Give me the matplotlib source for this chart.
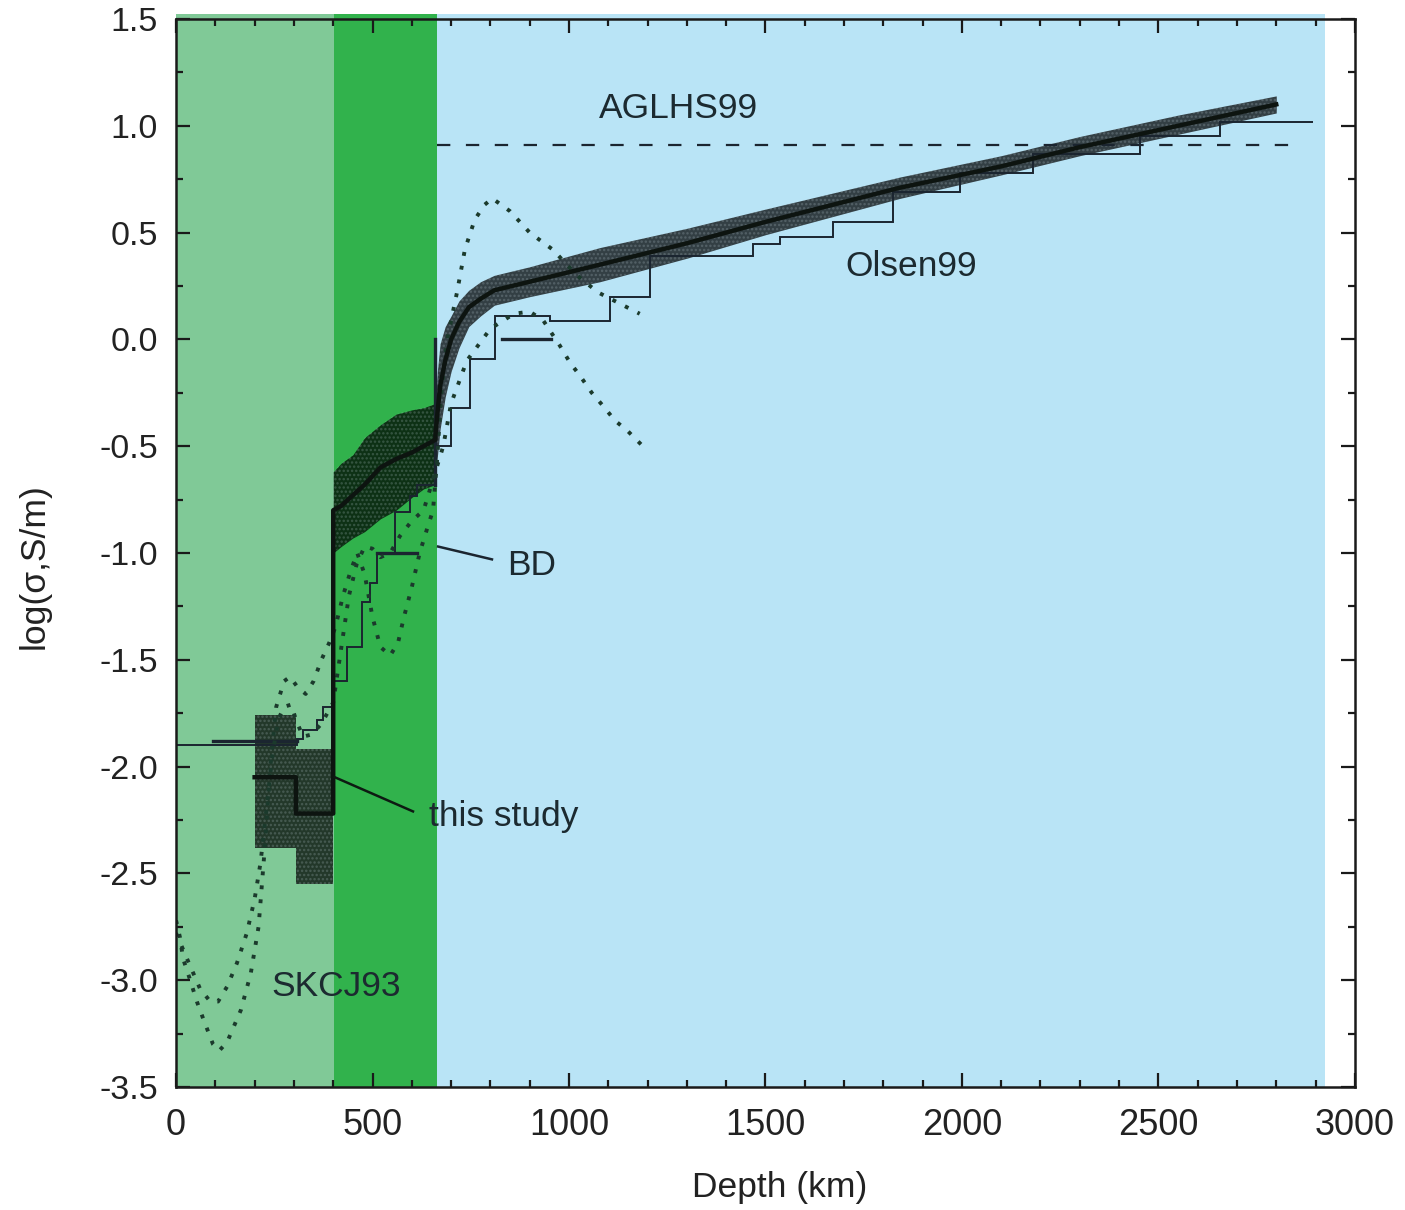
import numpy as np
import matplotlib
matplotlib.use("Agg")
import matplotlib.pyplot as plt
from matplotlib.ticker import MultipleLocator

plt.rcParams['font.family'] = ['Liberation Sans', 'DejaVu Sans']
plt.rcParams['hatch.linewidth'] = 1.2

# ---------------- data ----------------
# shaded depth zones (km)
zone_upper = [0, 402]
zone_tz = [402, 665]
zone_lower = [665, 2925]

# "this study" - upper mantle boxes
ts_um_edges = [200, 305, 400]
ts_um_center = [-2.05, -2.22]
ts_um_lower = [-2.38, -2.55]
ts_um_upper = [-1.76, -1.92]

# "this study" - transition zone
ts_tz_depth = [400, 420, 450, 480, 520, 560, 600, 630, 660]
ts_tz_center = [-0.80, -0.78, -0.73, -0.68, -0.60, -0.56, -0.53, -0.50, -0.47]
ts_tz_upper = [-0.62, -0.58, -0.54, -0.46, -0.40, -0.35, -0.33, -0.32, -0.30]
ts_tz_lower = [-1.00, -0.97, -0.93, -0.90, -0.84, -0.80, -0.74, -0.70, -0.68]

# "this study" - lower mantle
ts_lm_depth = [660, 665, 672, 685, 700, 720, 745, 775, 810, 900, 1079, 1300, 1500, 1842, 2100, 2300, 2550, 2800]
ts_lm_center = [-0.45, -0.35, -0.22, -0.10, 0.00, 0.08, 0.15, 0.19, 0.23, 0.27, 0.35, 0.45, 0.55, 0.71, 0.81, 0.90, 1.00, 1.10]
ts_lm_upper = [-0.30, -0.15, -0.02, 0.06, 0.11, 0.18, 0.23, 0.27, 0.30, 0.34, 0.43, 0.52, 0.61, 0.76, 0.86, 0.95, 1.05, 1.14]
ts_lm_lower = [-0.62, -0.55, -0.42, -0.27, -0.15, -0.04, 0.06, 0.11, 0.16, 0.20, 0.27, 0.38, 0.49, 0.66, 0.77, 0.86, 0.96, 1.06]

# Olsen99 stair model
olsen_edges = [0, 308, 323, 358, 374, 400, 435, 473, 493, 511, 557, 595, 613, 660, 700, 748, 812,
               952, 1104, 1206, 1468, 1537, 1672, 1824, 1995, 2181, 2453, 2656, 2893]
olsen_vals = [-1.90, -1.87, -1.83, -1.78, -1.72, -1.60, -1.44, -1.23, -1.14, -1.00, -0.81, -0.735, -0.68,
              -0.50, -0.32, -0.09, 0.11, 0.085, 0.20, 0.39, 0.445, 0.48, 0.55, 0.69, 0.78, 0.87, 0.95, 1.02]

# BD model segments (NaN = break)
bd_depth = [94, 308, np.nan, 511, 613, np.nan, 660, 660, np.nan, 830, 955]
bd_vals = [-1.88, -1.88, np.nan, -1.00, -1.00, np.nan, -0.68, 0.00, np.nan, 0.00, 0.00]

# AGLHS99
aglhs_depth = [665, 2860]
aglhs_vals = [0.91, 0.91]

# SKCJ93 (two dotted profiles)
skcj_a_depth = [0, 10, 18, 36, 53, 69, 94, 110, 130, 165, 190, 210, 225, 240, 255, 275, 290, 310, 330, 350,
                370, 390, 405, 425, 445, 461, 480, 500, 520, 545, 565, 580, 600, 620, 640, 654, 665, 674, 690, 715,
                735, 760, 785, 805, 850, 900, 959, 1020, 1074, 1148, 1180]
skcj_a_vals = [-2.72, -2.80, -2.90, -3.00, -3.10, -3.18, -3.30, -3.33, -3.29, -3.14, -2.97, -2.75, -2.40, -2.00,
               -1.72, -1.60, -1.58, -1.63, -1.66, -1.60, -1.50, -1.42, -1.35, -1.20, -1.08, -1.00, -1.10, -1.30,
               -1.44, -1.48, -1.42, -1.30, -1.16, -1.00, -0.88, -0.80, -0.55, -0.27, 0.00, 0.22, 0.42, 0.56, 0.63,
               0.66, 0.60, 0.50, 0.42, 0.30, 0.22, 0.15, 0.12]
skcj_b_depth = [0, 28, 61, 87, 107, 130, 155, 180, 200, 215, 230, 245, 260, 275, 293, 305, 323, 345, 370, 400,
                420, 440, 460, 480, 500, 520, 545, 570, 600, 630, 660, 680, 700, 740, 800, 860, 900, 934, 977, 1003,
                1028, 1058, 1086, 1117, 1150, 1188]
skcj_b_vals = [-2.78, -2.90, -3.04, -3.10, -3.10, -3.03, -2.92, -2.78, -2.62, -2.45, -2.20, -1.95, -1.78, -1.72,
               -1.71, -1.78, -1.86, -1.85, -1.80, -1.70, -1.45, -1.20, -1.05, -0.97, -0.98, -1.02, -1.00, -0.92,
               -0.85, -0.80, -0.62, -0.50, -0.30, -0.10, 0.05, 0.12, 0.13, 0.09, -0.03, -0.11, -0.17, -0.25,
               -0.31, -0.38, -0.43, -0.50]

# labels
x_ticks = [0, 500, 1000, 1500, 2000, 2500, 3000]
y_ticks = [-3.5, -3.0, -2.5, -2.0, -1.5, -1.0, -0.5, 0.0, 0.5, 1.0, 1.5]
x_ticklabels = ['0', '500', '1000', '1500', '2000', '2500', '3000']
y_ticklabels = ['-3.5', '-3.0', '-2.5', '-2.0', '-1.5', '-1.0', '-0.5', '0.0', '0.5', '1.0', '1.5']

# ---------------- plot ----------------
ink = '#1b2530'
fig = plt.figure(figsize=(14.05, 12.10), dpi=100)
ax = fig.add_axes([0.1253, 0.1017, 0.839, 0.8826])
ax.set_xlim(0, 3000)
ax.set_ylim(-3.5, 1.5)

ax.axvspan(*zone_upper, ymin=0, ymax=1.005, color='#80c997', lw=0, zorder=0, clip_on=False)
ax.axvspan(*zone_tz, ymin=0, ymax=1.005, color='#31b24c', lw=0, zorder=0, clip_on=False)
ax.axvspan(*zone_lower, ymin=0, ymax=1.005, color='#b9e4f6', lw=0, zorder=0, clip_on=False)

band_kw = dict(color='black', alpha=0.72, lw=0, zorder=2)
tex_kw = dict(facecolor='none', edgecolor=(0.75, 0.82, 0.85, 0.22), hatch='....', lw=0, zorder=2.5)
# upper mantle boxes
ax.stairs(ts_um_upper, ts_um_edges, baseline=ts_um_lower, fill=True, **band_kw)
ax.fill_between(ts_tz_depth, ts_tz_lower, ts_tz_upper, **band_kw)
ax.fill_between(ts_lm_depth, ts_lm_lower, ts_lm_upper, **band_kw)
ax.fill_between(ts_tz_depth, ts_tz_lower, ts_tz_upper, **tex_kw)
ax.fill_between(ts_lm_depth, ts_lm_lower, ts_lm_upper, **tex_kw)
for i in range(len(ts_um_center)):
    ax.fill_between(ts_um_edges[i:i + 2], [ts_um_lower[i]] * 2, [ts_um_upper[i]] * 2, **tex_kw)

# this study centre line
cx = [ts_um_edges[0], ts_um_edges[1], ts_um_edges[1], ts_um_edges[2]] + ts_tz_depth + ts_lm_depth
cy = [ts_um_center[0], ts_um_center[0], ts_um_center[1], ts_um_center[1]] + ts_tz_center + ts_lm_center
ax.plot(cx, cy, color='#0d1410', lw=3.2, zorder=4, solid_joinstyle='round')

# Olsen99
ax.stairs(olsen_vals, olsen_edges, baseline=None, color=ink, lw=1.4, zorder=3)
# BD
ax.plot(bd_depth, bd_vals, color=ink, lw=2.4, zorder=3)
# AGLHS99
ax.plot(aglhs_depth, aglhs_vals, color=ink, lw=1.6, linestyle=(0, (6, 7)), zorder=3)
# SKCJ93
for d, v in [(skcj_a_depth, skcj_a_vals), (skcj_b_depth, skcj_b_vals)]:
    ax.plot(d, v, color='#1b3a2c', lw=2.8, linestyle=(0, (1, 2.6)), zorder=3)

# annotations
ax.plot([404, 603], [-2.05, -2.21], color='#0d1a12', lw=1.8, zorder=5)
ax.plot([667, 804], [-0.97, -1.03], color=ink, lw=1.8, zorder=5)
tkw = dict(fontsize=25.5, color='#1c2a30', va='center', ha='left', zorder=6)
ax.text(645, -2.235, 'this study', **tkw)
ax.text(842, -1.06, 'BD', **tkw)
ax.text(242, -3.03, 'SKCJ93', **tkw)
ax.text(1076, 1.08, 'AGLHS99', **tkw)
ax.text(1704, 0.34, 'Olsen99', **tkw)

# axes styling
ax.set_xticks(x_ticks)
ax.set_xticklabels(x_ticklabels)
ax.set_yticks(y_ticks)
ax.set_yticklabels(y_ticklabels)
ax.xaxis.set_minor_locator(MultipleLocator(100))
ax.yaxis.set_minor_locator(MultipleLocator(0.25))
ax.tick_params(which='both', direction='in', top=True, right=True, color='#1a1a1a', width=1.6,
               labelcolor='#222222')
ax.tick_params(which='major', length=10)
ax.tick_params(which='minor', length=5)
ax.tick_params(axis='x', which='major', pad=15, labelsize=26)
ax.tick_params(axis='y', which='major', pad=13, labelsize=24.5)
for s in ax.spines.values():
    s.set_linewidth(1.8)
    s.set_color('#1a1a1a')
    s.set_zorder(7)
ax.set_xlabel('Depth (km)', fontsize=25.5, color='#222222', labelpad=20)
ax.set_ylabel('log(\u03c3,S/m)', fontsize=25.5, color='#222222', labelpad=35)
ax.xaxis.label.set_x(0.512)
ax.yaxis.label.set_y(0.488)

fig.savefig('out.png', dpi=100)
